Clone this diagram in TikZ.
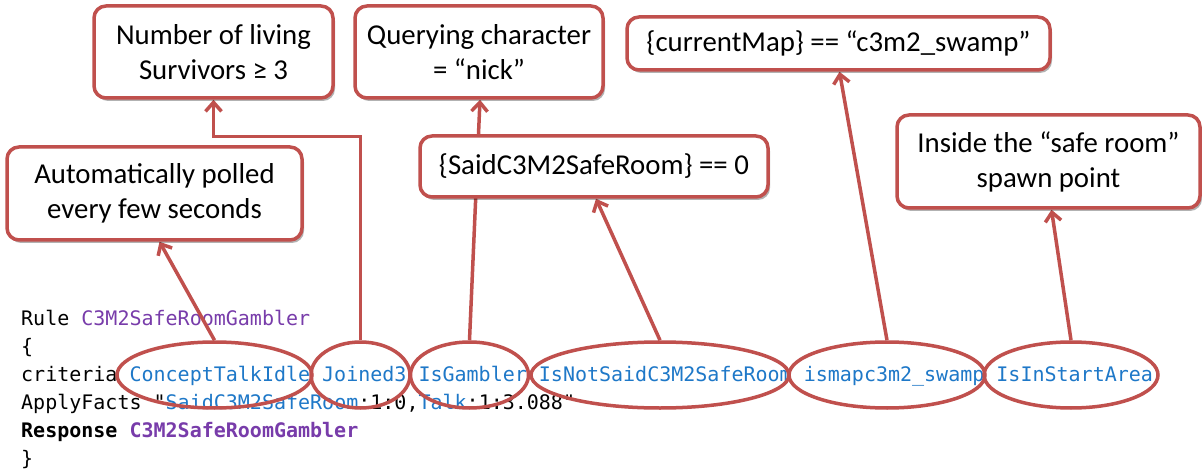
\documentclass[tikz,border=0pt]{standalone}
\usepackage{fontspec}
\setmainfont{Carlito}
\newfontfamily\codefont{DejaVu Sans Mono}
\usetikzlibrary{shapes.geometric,arrows.meta,shadows}
\definecolor{accred}{RGB}{192,80,77}
\definecolor{codeblue}{RGB}{30,120,200}
\definecolor{codepurple}{RGB}{120,60,170}
\pgfdeclarelayer{bg}
\pgfsetlayers{bg,main}
\begin{document}
\begin{tikzpicture}[x=1pt,y=-1pt,
  box/.style={draw=accred, line width=3.5pt, fill=white, rounded corners=12pt,
    align=center, inner sep=0pt, font=\fontsize{28.8}{35}\selectfont,
    drop shadow={shadow xshift=2pt,shadow yshift=-3pt,opacity=0.3,fill=black}},
  oval/.style={ellipse, draw=accred, line width=3.5pt, minimum height=66pt, inner sep=0pt},
  conn/.style={draw=accred, line width=3.5pt, -{Straight Barb[length=9pt,width=16pt]}},
  code/.style={anchor=base west, inner sep=0pt, font=\codefont\fontsize{20}{28}\selectfont}]
\useasboundingbox (0,0) rectangle (1202,473);

% boxes
\node[box, minimum width=239pt, minimum height=92pt] (b1) at (213.5,52) {Number of living\\Survivors ≥ 3};
\node[box, minimum width=248pt, minimum height=92pt] (b2) at (479,52) {Querying character\\= “nick”};
\node[box, minimum width=423pt, minimum height=53pt] (b3) at (838.5,43.5) {\{currentMap\} == “c3m2\_swamp”};
\node[box, minimum width=295pt, minimum height=93pt] (b4) at (154.5,193.5) {Automatically polled\\every few seconds};
\node[box, minimum width=348pt, minimum height=61pt] (b5) at (594,166.5) {\{SaidC3M2SafeRoom\} == 0};
\node[box, minimum width=303pt, minimum height=93pt] (b6) at (1048.5,161.5) {Inside the “safe room”\\spawn point};

% ellipses
\node[oval, minimum width=195pt] (e1) at (214.5,375) {};
\node[oval, minimum width=99pt] (e2) at (360.5,375) {};
\node[oval, minimum width=118pt] (e3) at (469.5,375) {};
\node[oval, minimum width=258pt] (e4) at (660,375) {};
\node[oval, minimum width=196pt] (e5) at (887,375) {};
\node[oval, minimum width=174pt] (e6) at (1071,375) {};

\begin{pgfonlayer}{bg}
\fill[white] (0,0) rectangle (1202,473);
\node[code] (l1) at (21,325) {Rule {\color{codepurple}C3M2SafeRoomGambler}};
\node[code] (l2) at (21,353) {\{};
\node[code] (l3) at (21,381) {criteria {\color{codeblue}ConceptTalkIdle Joined3 IsGambler IsNotSaidC3M2SafeRoom ismapc3m2\_swamp IsInStartArea}};
\node[code] (l4) at (21,409) {ApplyFacts "{\color{codeblue}SaidC3M2SafeRoom}:1:0,{\color{codeblue}Talk}:1:3.088"};
\node[code] (l5) at (21,437) {\bfseries Response {\color{codepurple}C3M2SafeRoomGambler}};
\node[code] (l6) at (21,465) {\}};

\draw[conn] (e1.north) -- ([xshift=5pt]b4.south);
\draw[conn] (e2.north) |- ([yshift=-37pt]b1.south) -- (b1.south);
\draw[conn] (e3.north) -- ([xshift=1pt]b2.south);
\draw[conn] (e4.north) -- ([xshift=2pt]b5.south);
\draw[conn] (e5.north) -- ([xshift=1pt]b3.south);
\draw[conn] (e6.north) -- ([xshift=3pt]b6.south);
\end{pgfonlayer}
\end{tikzpicture}
\end{document}
